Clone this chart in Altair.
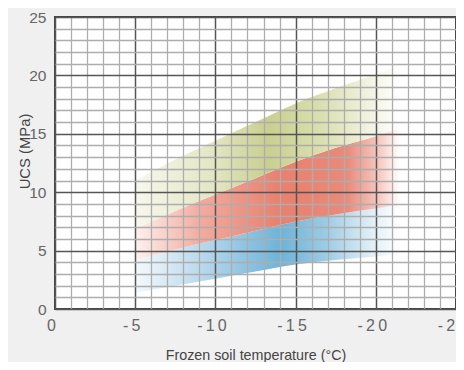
import altair as alt
import pandas as pd

temps = [-5, -7.5, -10, -12.5, -15, -17.5, -20, -21.5]
blue_low = [1.4, 2.0, 2.6, 3.2, 3.8, 4.2, 4.5, 4.7]
blue_high = [4.2, 5.1, 5.9, 6.7, 7.5, 8.1, 8.6, 8.9]
red_high = [6.9, 8.4, 9.8, 11.2, 12.6, 13.8, 14.8, 15.5]
green_high = [11.0, 12.8, 14.4, 16.0, 17.6, 18.9, 20.1, 20.9]

x_ticks = list(range(0, -26, -1))
y_ticks = list(range(0, 26, 1))

bands = [
    ("blue", blue_low, blue_high,
     [(0.0, "#f4f9fc"), (0.25, "#b9d9ec"), (0.55, "#6db3d9"), (0.72, "#9ccbe4"), (0.88, "#dcecf5"), (1.0, "#ffffff")]),
    ("red", blue_high, red_high,
     [(0.0, "#fdf1ef"), (0.25, "#f2aa9d"), (0.55, "#e8806e"), (0.8, "#ea8a7a"), (0.92, "#f6c8c0"), (1.0, "#ffffff")]),
    ("green", red_high, green_high,
     [(0.0, "#f7f7ee"), (0.3, "#e3e6c2"), (0.5, "#c9cf8f"), (0.7, "#dadfae"), (0.88, "#f1f2e0"), (1.0, "#ffffff")]),
]

rows = []
for name, lo, hi, _ in bands:
    for t, a, b in zip(temps, lo, hi):
        rows.append({"band": name, "temp": t, "lo": a, "hi": b})
df = pd.DataFrame(rows)

grid_c = {"condition": {"test": "datum.value % 5 === 0", "value": "#555555"}, "value": "#adadad"}
grid_w = {"condition": {"test": "datum.value % 5 === 0", "value": 1.5}, "value": 1.3}

x_axis = alt.Axis(
    values=x_ticks, ticks=False, domain=False, grid=True, zindex=1,
    gridColor=grid_c, gridWidth=grid_w,
    labelExpr="datum.value % 5 !== 0 ? '' : (datum.value === 0 ? '0' : '-\u2009' + join(split(toString(-datum.value), ''), '\u2009'))",
    labelFont="Liberation Sans", labelFontSize=16, labelColor="#666666",
    labelPadding=8, labelOffset=-4, labelFlush=False, labelOverlap=False,
    title="Frozen soil temperature (°C)", titleFont="Liberation Sans",
    titleFontSize=14.3, titleFontWeight="normal", titleColor="#444444",
    titleY=50, titleBaseline="alphabetic",
)
y_axis = alt.Axis(
    values=y_ticks, ticks=False, domain=False, grid=True, zindex=1,
    gridColor=grid_c, gridWidth=grid_w,
    labelExpr="datum.value % 5 === 0 ? datum.label : ''",
    labelFont="Liberation Sans", labelFontSize=15.5, labelColor="#666666",
    labelPadding=9, labelFlush=False, labelOverlap=False,
    title="UCS (MPa)", titleFont="Liberation Sans",
    titleFontSize=14.8, titleFontWeight="normal", titleColor="#444444",
    titleX=-26, titleY=134, titleBaseline="alphabetic",
)

layers = []
for name, lo, hi, stops in bands:
    grad = alt.Gradient(
        gradient="linear",
        stops=[alt.GradientStop(offset=o, color=c) for o, c in stops],
        x1=0, x2=1, y1=0, y2=0,
    )
    layers.append(
        alt.Chart(df[df.band == name]).mark_area(color=grad, interpolate="monotone").encode(
            x=alt.X("temp:Q", scale=alt.Scale(domain=[0, -25], nice=False, zero=False), axis=x_axis),
            y=alt.Y("lo:Q", scale=alt.Scale(domain=[0, 25], nice=False), axis=y_axis),
            y2="hi:Q",
        )
    )

chart = alt.layer(*layers).properties(
    width=401, height=292,
    background="#f0f0f0",
    autosize=alt.AutoSizeParams(type="none"),
    padding={"left": 47, "top": 9, "right": 0, "bottom": 53},
).configure_view(fill="white", stroke="#444444", strokeWidth=2)

chart.save("out.html", embed_options={"renderer": "svg", "actions": False})
